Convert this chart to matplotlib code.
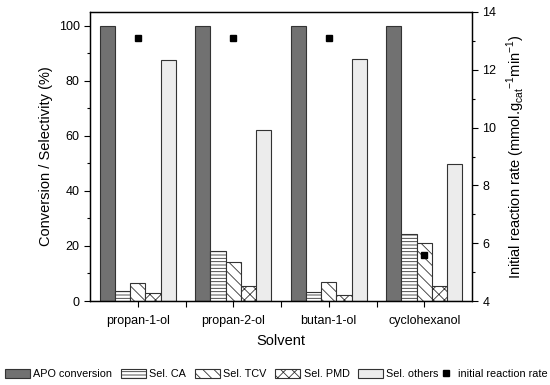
import matplotlib
matplotlib.use("Agg")
import matplotlib.pyplot as plt
import numpy as np
from matplotlib.patches import Patch
from matplotlib.lines import Line2D

plt.rcParams["font.family"] = ["Liberation Sans", "DejaVu Sans"]
plt.rcParams["hatch.linewidth"] = 0.6

solvents = ["propan-1-ol", "propan-2-ol", "butan-1-ol", "cyclohexanol"]
apo_conv = [100, 100, 100, 100]
sel_ca = [3.5, 18.3, 3.3, 24.2]
sel_tcv = [6.4, 14.2, 7.0, 21.1]
sel_pmd = [2.8, 5.4, 2.2, 5.3]
sel_others = [87.5, 62.1, 87.8, 49.7]
init_rate = [13.1, 13.1, 13.1, 5.6]

EDGE = "#333333"
fig = plt.figure(figsize=(5.5, 3.85), dpi=100)
ax = fig.add_axes([90 / 550, 1 - 301 / 385, 382 / 550, 289 / 385])
ax2 = ax.twinx()

x = np.arange(1, len(solvents) + 1)
w = 0.16
series = [
    (apo_conv, "#717171", None, "APO conversion"),
    (sel_ca, "white", "-----", "Sel. CA"),
    (sel_tcv, "white", "\\\\\\", "Sel. TCV"),
    (sel_pmd, "white", "xxx", "Sel. PMD"),
    (sel_others, "#ececec", None, "Sel. others"),
]
handles = []
for i, (vals, fc, hatch, lab) in enumerate(series):
    ax.bar(x + (i - 2) * w, vals, w, color=fc, hatch=hatch,
           edgecolor=EDGE, linewidth=0.8, zorder=2)
    handles.append(Patch(facecolor=fc, hatch=hatch, edgecolor=EDGE,
                         linewidth=0.8, label=lab))

ax2.plot(x, init_rate, ls="none", marker="s", ms=4.5, color="black", zorder=5)
rate_handle = Line2D([], [], ls="none", marker="s", ms=4, color="black",
                     label="initial reaction rate")

ax.set_xlim(0.5, 4.5)
ax.set_ylim(0, 105)
ax2.set_ylim(4, 14)
ax.set_xticks(x)
ax.set_xticklabels(solvents)
ax.set_xticks([1.5, 2.5, 3.5], minor=True)
ax.set_yticks(range(0, 101, 20))
ax.set_yticks(range(10, 101, 20), minor=True)
ax2.set_yticks(range(4, 15, 2))
ax2.set_yticks(range(5, 15, 2), minor=True)

for a in (ax, ax2):
    a.tick_params(which="both", direction="out", labelsize=9, width=0.8)
    a.tick_params(which="major", length=4)
    a.tick_params(which="minor", length=2.5)
    for s in a.spines.values():
        s.set_linewidth(0.9)
ax.tick_params(axis="x", which="minor", length=4)
ax.tick_params(axis="x", which="major", pad=6)

ax.set_ylabel("Conversion / Selectivity (%)", fontsize=10.5)
ax2.set_ylabel(r"Initial reaction rate (mmol.g$_\mathregular{cat}$$^\mathregular{-1}$min$^\mathregular{-1}$)",
               fontsize=10.5, labelpad=6)
ax.set_xlabel("Solvent", fontsize=10.5, labelpad=5)

# legend in two parts: the rate marker sits right after "Sel. others"
ly = 1 - 374 / 385
fig.legend(handles=handles, loc="center left", bbox_to_anchor=(5 / 550, ly),
           ncol=5, frameon=False, fontsize=7.8, handlelength=2.3, handleheight=1.0,
           handletextpad=0.3, columnspacing=0.82, borderaxespad=0, borderpad=0)
fig.legend(handles=[rate_handle], loc="center left", bbox_to_anchor=(441 / 550, ly),
           frameon=False, fontsize=7.8, handlelength=0.9, handletextpad=0.65,
           borderaxespad=0, borderpad=0)

fig.savefig("out.png", dpi=100, facecolor="white")
